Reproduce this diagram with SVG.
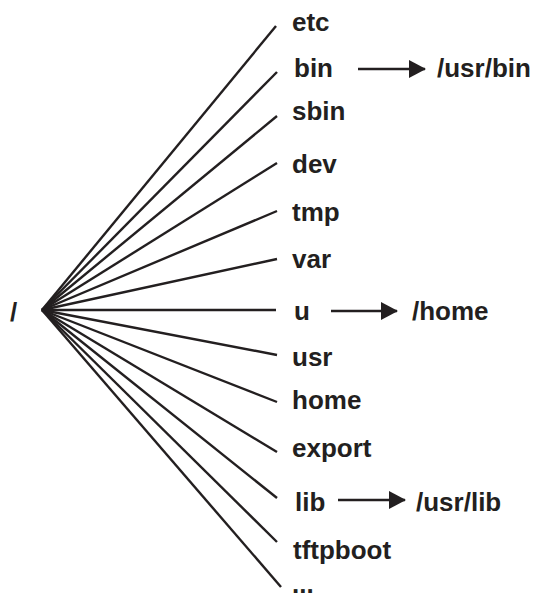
<svg xmlns="http://www.w3.org/2000/svg" width="536" height="599" viewBox="0 0 536 599">
<style>
  text { font-family: "Liberation Sans", Arial, sans-serif; font-weight: bold; font-size: 26px; fill: #231f20; }
  .fan line { stroke: #231f20; stroke-width: 2.4; stroke-linecap: butt; }
  .arrow { stroke: #231f20; stroke-width: 2.4; fill: none; }
</style>
<defs>
  <marker id="ah" markerWidth="17" markerHeight="18" refX="16" refY="9" orient="auto" markerUnits="userSpaceOnUse">
    <path d="M0,0 L17,9 L0,18 Z" fill="#231f20"/>
  </marker>
</defs>
<rect width="536" height="599" fill="#ffffff"/>
<g id="connectors">
  <g class="fan">
    <line x1="42" y1="310" x2="276" y2="26"/>
    <line x1="42" y1="310" x2="277" y2="72"/>
    <line x1="42" y1="310" x2="277" y2="116"/>
    <line x1="42" y1="310" x2="277" y2="163"/>
    <line x1="42" y1="310" x2="277" y2="211"/>
    <line x1="42" y1="310" x2="277" y2="259"/>
    <line x1="42" y1="310" x2="276" y2="310"/>
    <line x1="42" y1="310" x2="277" y2="355"/>
    <line x1="42" y1="310" x2="277" y2="402"/>
    <line x1="42" y1="310" x2="277" y2="452"/>
    <line x1="42" y1="310" x2="277" y2="498"/>
    <line x1="42" y1="310" x2="277" y2="542"/>
    <line x1="42" y1="310" x2="281" y2="587"/>
  </g>
  <line class="arrow" x1="358" y1="69" x2="425" y2="69" marker-end="url(#ah)"/>
  <line class="arrow" x1="331" y1="311" x2="397" y2="311" marker-end="url(#ah)"/>
  <line class="arrow" x1="338" y1="500" x2="405" y2="500" marker-end="url(#ah)"/>
</g>
<g id="root"><text x="10" y="321">/</text></g>
<g id="etc"><text x="292" y="31">etc</text></g>
<g id="bin"><text x="294" y="77">bin</text></g>
<g id="usrbin"><text x="437" y="77">/usr/bin</text></g>
<g id="sbin"><text x="292" y="120">sbin</text></g>
<g id="dev"><text x="292" y="173">dev</text></g>
<g id="tmp"><text x="292" y="221">tmp</text></g>
<g id="var"><text x="292" y="268">var</text></g>
<g id="u"><text x="294" y="320">u</text></g>
<g id="homelink"><text x="412" y="320">/home</text></g>
<g id="usr"><text x="292" y="366">usr</text></g>
<g id="home"><text x="292" y="409">home</text></g>
<g id="export"><text x="292" y="457">export</text></g>
<g id="lib"><text x="295" y="511">lib</text></g>
<g id="usrlib"><text x="416" y="511">/usr/lib</text></g>
<g id="tftpboot"><text x="293" y="559">tftpboot</text></g>
<g id="more"><text x="292" y="593">...</text></g>
</svg>
